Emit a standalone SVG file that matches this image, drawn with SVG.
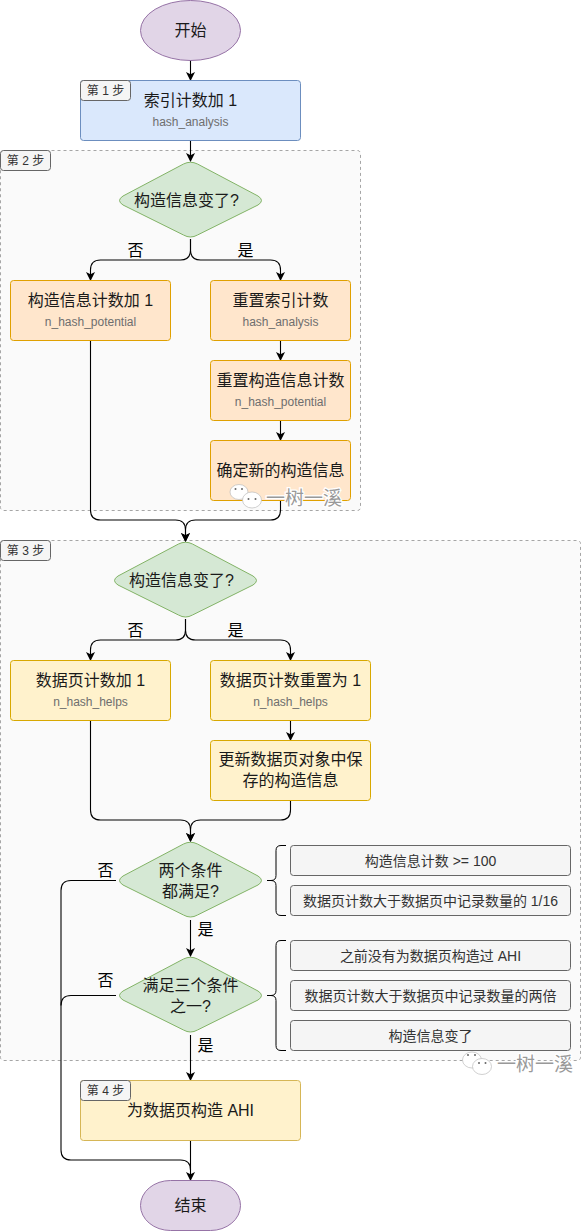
<svg xmlns="http://www.w3.org/2000/svg" width="581" height="1231" viewBox="0 0 581 1231">
<style>
text{font-family:"Liberation Sans","Noto Sans CJK SC",sans-serif;text-anchor:middle;fill:#1a1a1a}
.t{font-size:16px}
.s{font-size:12px;fill:#6e6e6e}
.l{font-size:16px;fill:#000}
.tag{font-size:12px;fill:#333}
.c{font-size:14px;fill:#333}
.g{fill:#fafafa;stroke:#a6a6a6;stroke-dasharray:3 3}
.tg{fill:#f5f5f5;stroke:#666}
.blue{fill:#dae8fc;stroke:#6c8ebf}
.org{fill:#ffe6cc;stroke:#e0a000}
.yel{fill:#fff2cc;stroke:#d6b656}
.yel2{fill:#fff2cc;stroke:#d8a800}
.grn{fill:#d5e8d4;stroke:#82b366}
.pur{fill:#e1d5e7;stroke:#9673a6}
.cnd{fill:#f5f5f5;stroke:#666}
.e{fill:none;stroke:#000;stroke-width:1.1}
.br{fill:none;stroke:#000;stroke-width:1}
.wm{font-size:19px;fill:#999;stroke:#fff;stroke-width:2.5px;paint-order:stroke}
.b1{fill:#fff;stroke:#bbb;stroke-width:.7}
.dot{fill:#666}
</style>
<defs>
<marker id="a" markerWidth="10" markerHeight="10" refX="8" refY="4.500" orient="auto" markerUnits="userSpaceOnUse"><path d="M0 0L9 4.500L0 9L2.200 4.500Z" fill="#000"/></marker>
</defs>
<g id="group2"><rect class="g" x="0.500" y="150.500" width="360" height="360" rx="3"/></g>
<g id="group3"><rect class="g" x="0.500" y="540.500" width="580" height="520" rx="3"/></g>
<g id="connectors">
<path class="e" marker-end="url(#a)" d="M190.500 60V80"/>
<path class="e" marker-end="url(#a)" d="M190.500 140V161"/>
<path class="e" marker-end="url(#a)" d="M190.500 239V250Q190.500 260 180.500 260H100.500Q90.500 260 90.500 270V280"/>
<path class="e" marker-end="url(#a)" d="M190.500 239V250Q190.500 260 200.500 260H270.500Q280.500 260 280.500 270V280"/>
<path class="e" marker-end="url(#a)" d="M280.500 340V360"/>
<path class="e" marker-end="url(#a)" d="M280.500 420V440"/>
<path class="e" marker-end="url(#a)" d="M90.500 340V510Q90.500 520 100.500 520H175.500Q185.500 520 185.500 530V541"/>
<path class="e" marker-end="url(#a)" d="M280.500 500V510Q280.500 520 270.500 520H195.500Q185.500 520 185.500 530V541"/>
<path class="e" marker-end="url(#a)" d="M185.500 619V630Q185.500 640 175.500 640H100.500Q90.500 640 90.500 650V660"/>
<path class="e" marker-end="url(#a)" d="M185.500 619V630Q185.500 640 195.500 640H280.500Q290.500 640 290.500 650V660"/>
<path class="e" marker-end="url(#a)" d="M290.500 720V740"/>
<path class="e" marker-end="url(#a)" d="M90.500 720V810Q90.500 820 100.500 820H180.500Q190.500 820 190.500 830V841"/>
<path class="e" marker-end="url(#a)" d="M290.500 800V810Q290.500 820 280.500 820H200.500Q190.500 820 190.500 830V841"/>
<path class="e" marker-end="url(#a)" d="M190.500 920V956"/>
<path class="e" marker-end="url(#a)" d="M190.500 1035V1080"/>
<path class="e" marker-end="url(#a)" d="M190.500 1140V1180"/>
<path class="e" d="M116 880.500H71Q61 880.500 61 890.500V1150Q61 1160 71 1160H180.500Q190.500 1160 190.500 1170"/>
<path class="e" d="M116 995.500H71Q61 995.500 61 1005.500"/>
<path class="br" d="M286 845.500H281Q276 845.500 276 850.500V875.500Q276 880.500 271 880.500H267M271 880.500Q276 880.500 276 885.500V910.500Q276 915.500 281 915.500H286"/>
<path class="br" d="M286 940.500H281Q276 940.500 276 945.500V990.500Q276 995.500 271 995.500H267M271 995.500Q276 995.500 276 1000.500V1045.500Q276 1050.500 281 1050.500H286"/>
</g>
<g id="start"><ellipse class="pur" cx="190.500" cy="30.500" rx="50" ry="30"/><text class="t" x="190.500" y="36">开始</text></g>
<g id="step1"><rect class="blue" x="80.500" y="80.500" width="220" height="60" rx="3"/><text class="t" x="190.500" y="106">索引计数加 1</text><text class="s" x="190.500" y="126">hash_analysis</text></g>
<g id="tag1"><rect class="tg" x="80.500" y="80.500" width="50" height="20" rx="3"/><text class="tag" x="105.500" y="95">第 1 步</text></g>
<g id="tag2"><rect class="tg" x="0.500" y="150.500" width="50" height="20" rx="3"/><text class="tag" x="25.500" y="165">第 2 步</text></g>
<g id="d1"><path class="grn" d="M183.500 164Q190.500 160.500 197.500 164L258 196Q265 200.500 258 205L197.500 235Q190.500 239 183.500 235L123 205Q116 200.500 123 196Z"/><text class="t" x="186.500" y="206">构造信息变了?</text></g>
<g id="n1"><rect class="org" x="10.500" y="280.500" width="160" height="60" rx="3"/><text class="t" x="90.500" y="306">构造信息计数加 1</text><text class="s" x="90.500" y="326">n_hash_potential</text></g>
<g id="n2"><rect class="org" x="210.500" y="280.500" width="140" height="60" rx="3"/><text class="t" x="280.500" y="306">重置索引计数</text><text class="s" x="280.500" y="326">hash_analysis</text></g>
<g id="n3"><rect class="org" x="210.500" y="360.500" width="140" height="60" rx="3"/><text class="t" x="280.500" y="386">重置构造信息计数</text><text class="s" x="280.500" y="406">n_hash_potential</text></g>
<g id="n4"><rect class="org" x="210.500" y="440.500" width="140" height="60" rx="3"/><text class="t" x="280.500" y="476">确定新的构造信息</text></g>
<g id="tag3"><rect class="tg" x="0.500" y="540.500" width="50" height="20" rx="3"/><text class="tag" x="25.500" y="555">第 3 步</text></g>
<g id="d2"><path class="grn" d="M178.500 544Q185.500 540.500 192.500 544L253 576Q260 580.500 253 585L192.500 615Q185.500 619 178.500 615L118 585Q111 580.500 118 576Z"/><text class="t" x="181.500" y="586">构造信息变了?</text></g>
<g id="n5"><rect class="yel2" x="10.500" y="660.500" width="160" height="60" rx="3"/><text class="t" x="90.500" y="686">数据页计数加 1</text><text class="s" x="90.500" y="706">n_hash_helps</text></g>
<g id="n6"><rect class="yel2" x="210.500" y="660.500" width="160" height="60" rx="3"/><text class="t" x="290.500" y="686">数据页计数重置为 1</text><text class="s" x="290.500" y="706">n_hash_helps</text></g>
<g id="n7"><rect class="yel2" x="210.500" y="740.500" width="160" height="60" rx="3"/><text class="t" x="290.500" y="765">更新数据页对象中保</text><text class="t" x="290.500" y="786">存的构造信息</text></g>
<g id="d3"><path class="grn" d="M183.500 844Q190.500 840.500 197.500 844L258 876Q265 880.500 258 885L197.500 915Q190.500 919 183.500 915L123 885Q116 880.500 123 876Z"/><text class="t" x="190.500" y="876">两个条件</text><text class="t" x="190.500" y="897">都满足?</text></g>
<g id="d4"><path class="grn" d="M183.500 959Q190.500 955.500 197.500 959L258 991Q265 995.500 258 1000L197.500 1030Q190.500 1034 183.500 1030L123 1000Q116 995.500 123 991Z"/><text class="t" x="190.500" y="991">满足三个条件</text><text class="t" x="190.500" y="1012">之一?</text></g>
<g id="c1"><rect class="cnd" x="290.500" y="845.500" width="280" height="30" rx="3"/><text class="c" x="430.500" y="866">构造信息计数 &gt;= 100</text></g>
<g id="c2"><rect class="cnd" x="290.500" y="885.500" width="280" height="30" rx="3"/><text class="c" x="430.500" y="906">数据页计数大于数据页中记录数量的 1/16</text></g>
<g id="c3"><rect class="cnd" x="290.500" y="940.500" width="280" height="30" rx="3"/><text class="c" x="430.500" y="961">之前没有为数据页构造过 AHI</text></g>
<g id="c4"><rect class="cnd" x="290.500" y="980.500" width="280" height="30" rx="3"/><text class="c" x="430.500" y="1001">数据页计数大于数据页中记录数量的两倍</text></g>
<g id="c5"><rect class="cnd" x="290.500" y="1020.500" width="280" height="30" rx="3"/><text class="c" x="430.500" y="1041">构造信息变了</text></g>
<g id="step4"><rect class="yel" x="80.500" y="1080.500" width="220" height="60" rx="3"/><text class="t" x="190.500" y="1116">为数据页构造 AHI</text></g>
<g id="tag4"><rect class="tg" x="80.500" y="1080.500" width="50" height="20" rx="3"/><text class="tag" x="105.500" y="1095">第 4 步</text></g>
<g id="end"><rect class="pur" x="140.500" y="1180.500" width="100" height="50" rx="30" ry="25"/><text class="t" x="190.500" y="1211">结束</text></g>
<g id="labels">
<text class="l" x="135.500" y="256">否</text><text class="l" x="245.500" y="256">是</text>
<text class="l" x="135.500" y="636">否</text><text class="l" x="235.500" y="636">是</text>
<text class="l" x="105.500" y="876">否</text><text class="l" x="205.500" y="935">是</text>
<text class="l" x="105.500" y="986">否</text><text class="l" x="205.500" y="1051">是</text>
</g>
<g id="watermark1">
<ellipse class="b1" cx="239" cy="492" rx="9" ry="7.500"/><ellipse class="b1" cx="252" cy="500" rx="9.500" ry="8"/>
<circle class="dot" cx="235.500" cy="489" r="1"/><circle class="dot" cx="242" cy="489" r="1"/><circle class="dot" cx="248.500" cy="499" r="1"/><circle class="dot" cx="255.500" cy="499" r="1"/>
<text class="wm" x="304" y="505">一树一溪</text>
</g>
<g id="watermark2">
<ellipse class="b1" cx="472" cy="1060" rx="9.500" ry="8"/><ellipse class="b1" cx="482" cy="1066.500" rx="9.500" ry="8"/>
<circle class="dot" cx="468" cy="1055" r="1"/><circle class="dot" cx="475" cy="1055" r="1"/><circle class="dot" cx="479" cy="1063" r="1"/><circle class="dot" cx="485.500" cy="1063" r="1"/>
<text class="wm" x="535" y="1071">一树一溪</text>
</g>
</svg>
